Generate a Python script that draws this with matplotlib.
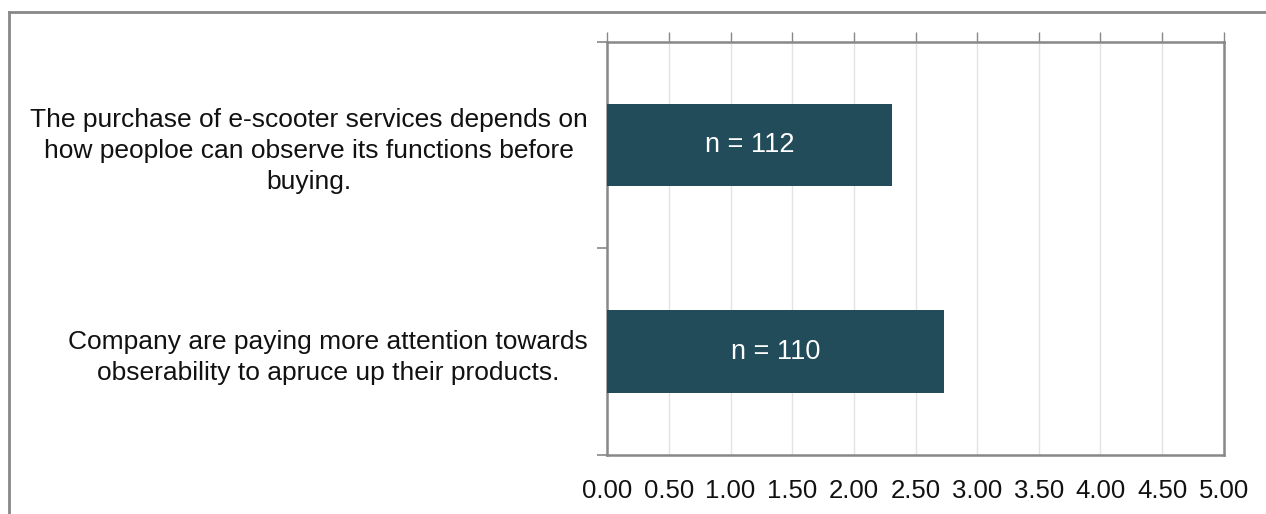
import matplotlib
matplotlib.use("Agg")
import matplotlib.pyplot as plt
from matplotlib.lines import Line2D
import numpy as np

# Survey statements and mean scores
statements = [
    "The purchase of e-scooter services depends on\nhow peoploe can observe its functions before\nbuying.",
    "Company are paying more attention towards\nobserability to apruce up their products.",
]
mean_scores = [2.31, 2.73]
sample_labels = ["n = 112", "n = 110"]
x_ticks = [0.0, 0.5, 1.0, 1.5, 2.0, 2.5, 3.0, 3.5, 4.0, 4.5, 5.0]

plt.rcParams["font.family"] = ["Liberation Sans", "DejaVu Sans"]

W, H = 1266, 514
fig = plt.figure(figsize=(W / 100, H / 100), dpi=100)
fig.patch.set_facecolor("white")

ax = fig.add_axes([607.3 / W, 1 - 455 / H, (1223.7 - 607.3) / W, (455 - 41.7) / H])

bar_color = "#234C5A"
spine_color = "#888888"
grid_color = "#E3E3E3"

ypos = np.arange(len(statements))
bars = ax.barh(ypos, mean_scores, height=0.4, color=bar_color, zorder=3)
for rect, lab in zip(bars, sample_labels):
    ax.text(rect.get_x() + rect.get_width() / 2, rect.get_y() + rect.get_height() / 2,
            lab, ha="center", va="center", color="white", fontsize=19.5, zorder=4)

ax.set_xlim(0, 5)
ax.set_ylim(len(statements) - 0.5, -0.5)

ax.set_xticks(x_ticks)
ax.set_xticklabels([f"{v:.2f}" for v in x_ticks], fontsize=18.5, color="#111111")
ax.tick_params(axis="x", top=True, bottom=False, labeltop=False, labelbottom=True,
               direction="out", length=7, width=1, color=spine_color, pad=10)

# Category boundaries get tick marks; labels sit at category centres
ax.set_yticks(np.arange(-0.5, len(statements), 1.0))
ax.set_yticklabels([])
ax.tick_params(axis="y", which="major", direction="out", length=7, width=1.2, color=spine_color)
ax.set_yticks(ypos, minor=True)
ax.set_yticklabels(statements, minor=True, fontsize=19, color="#111111",
                   multialignment="center", linespacing=1.37)
ax.tick_params(axis="y", which="minor", length=0, pad=14)

ax.grid(axis="x", color=grid_color, linewidth=1, zorder=0)
ax.set_axisbelow(True)
for s in ax.spines.values():
    s.set_color(spine_color)
    s.set_linewidth(1.8)

# Outer chart frame (top and left edges)
fig.add_artist(Line2D([9 / W, 1.0], [1 - 12 / H, 1 - 12 / H], transform=fig.transFigure,
                      color=spine_color, linewidth=2))
fig.add_artist(Line2D([9 / W, 9 / W], [0.0, 1 - 12 / H], transform=fig.transFigure,
                      color=spine_color, linewidth=2))

fig.savefig("out.png", dpi=100, facecolor="white")
